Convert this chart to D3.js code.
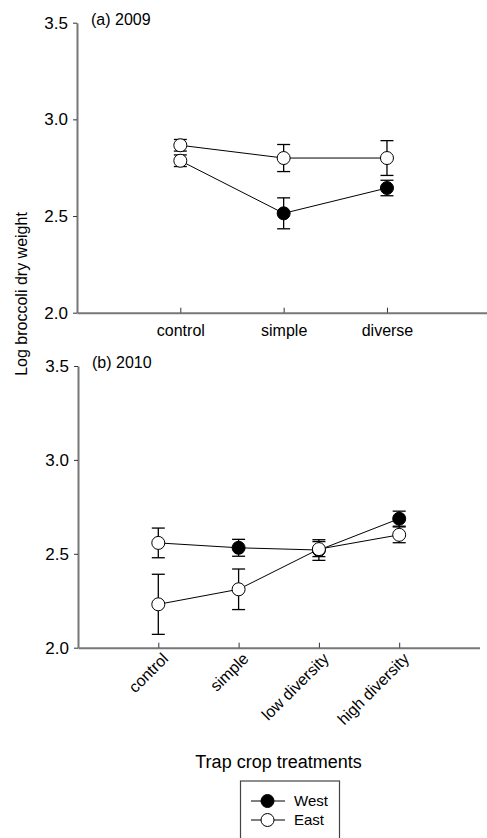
<!DOCTYPE html>
<html>
<head>
<meta charset="utf-8">
<script src="https://cdn.jsdelivr.net/npm/d3@7"></script>
<style>
  body { margin: 0; background: #fff; }
  svg { display: block; font-family: "Liberation Sans", Arial, sans-serif; }
</style>
</head>
<body>
<div id="chart"></div>
<script>
// values (log broccoli dry weight, mean +/- SE)
const treatA = ["control", "simple", "diverse"];
const westA = [2.786, 2.514, 2.645];
const westAErr = [0.03, 0.08, 0.04];
const eastA = [2.866, 2.80, 2.80];
const eastAErr = [0.03, 0.07, 0.09];

const treatB = ["control", "simple", "low diversity", "high diversity"];
const westB = [2.558, 2.532, 2.52, 2.687];
const westBErr = [0.079, 0.045, 0.055, 0.04];
const eastB = [2.231, 2.311, 2.525, 2.601];
const eastBErr = [0.16, 0.108, 0.04, 0.042];

const yTicks = [2.0, 2.5, 3.0, 3.5];
const seriesNames = ["West", "East"];

const width = 487, height = 838;
const axisGrey = "#777";

const svg = d3.select("#chart").append("svg")
  .attr("width", width)
  .attr("height", height);

function drawPanel(opts) {
  const { cats, west, westErr, east, eastErr, left, right, top, bottom, label, rotated } = opts;

  const x = d3.scaleLinear().domain([0, cats.length + 1]).range([left, right]);
  const y = d3.scaleLinear().domain([2.0, 3.5]).range([bottom, top]);

  const g = svg.append("g");

  // y axis
  const yAxis = g.append("g")
    .attr("transform", `translate(${left},0)`)
    .call(d3.axisLeft(y).tickValues(yTicks).tickFormat(d3.format(".1f")).tickSize(4).tickSizeOuter(0).tickPadding(5));
  yAxis.select(".domain").attr("stroke", axisGrey).attr("stroke-width", 2);
  yAxis.selectAll(".tick line").attr("stroke", "#333");
  yAxis.selectAll("text").style("font-size", "17px").attr("fill", "#000");

  // x axis, ticks point inward
  const xAxis = g.append("g")
    .attr("transform", `translate(0,${bottom})`)
    .call(d3.axisBottom(x).tickValues(d3.range(1, cats.length + 1))
      .tickSize(-5).tickSizeOuter(0).tickPadding(12)
      .tickFormat(d => rotated ? "" : cats[d - 1]));
  xAxis.select(".domain").attr("stroke", axisGrey).attr("stroke-width", 2);
  xAxis.selectAll(".tick line").attr("stroke", "#333");
  xAxis.selectAll("text").style("font-size", "16px").attr("fill", "#000");

  if (rotated) {
    g.selectAll(".rot-label")
      .data(cats)
      .enter()
      .append("text")
      .attr("class", "rot-label")
      .attr("transform", (d, i) => `translate(${x(i + 1) + 7},${bottom + 8}) rotate(-45)`)
      .attr("text-anchor", "end")
      .attr("dy", "0.35em")
      .style("font-size", "16px")
      .text(d => d);
  }

  g.append("text")
    .attr("x", left + 14)
    .attr("y", top + 2)
    .style("font-size", "16px")
    .text(label);

  const series = [
    { name: "West", vals: west, errs: westErr },
    { name: "East", vals: east, errs: eastErr }
  ].map(s => ({
    name: s.name,
    pts: s.vals.map((v, i) => ({ cat: cats[i], i: i + 1, v: v, e: s.errs[i] }))
  }));

  const line = d3.line().x(d => x(d.i)).y(d => y(d.v));

  series.forEach(s => {
    g.append("path")
      .datum(s.pts)
      .attr("fill", "none")
      .attr("stroke", "#000")
      .attr("stroke-width", 1)
      .attr("d", line);
  });

  const cap = 6.5;
  series.forEach(s => {
    const eb = g.selectAll(null).data(s.pts).enter().append("g").attr("stroke", "#000").attr("stroke-width", 1.3);
    eb.append("line")
      .attr("x1", d => x(d.i)).attr("x2", d => x(d.i))
      .attr("y1", d => y(d.v - d.e)).attr("y2", d => y(d.v + d.e));
    eb.append("line")
      .attr("x1", d => x(d.i) - cap).attr("x2", d => x(d.i) + cap)
      .attr("y1", d => y(d.v + d.e)).attr("y2", d => y(d.v + d.e));
    eb.append("line")
      .attr("x1", d => x(d.i) - cap).attr("x2", d => x(d.i) + cap)
      .attr("y1", d => y(d.v - d.e)).attr("y2", d => y(d.v - d.e));
  });

  series.forEach(s => {
    g.selectAll(null).data(s.pts).enter().append("circle")
      .attr("cx", d => x(d.i))
      .attr("cy", d => y(d.v))
      .attr("r", 6.5)
      .attr("stroke", "#000")
      .attr("stroke-width", 1)
      // in the original the West control marker is printed open, like East
      .attr("fill", d => (s.name === "West" && d.cat !== "control") ? "#000" : "#fff");
  });

  return { x, y };
}

drawPanel({
  cats: treatA, west: westA, westErr: westAErr, east: eastA, eastErr: eastAErr,
  left: 77, right: 490.3, top: 22.7, bottom: 312.7, label: "(a) 2009", rotated: false
});

drawPanel({
  cats: treatB, west: westB, westErr: westBErr, east: eastB, eastErr: eastBErr,
  left: 78, right: 479.5, top: 366, bottom: 647.7, label: "(b) 2010", rotated: true
});

// shared y label
svg.append("text")
  .attr("transform", "rotate(-90)")
  .attr("x", -294)
  .attr("y", 27)
  .attr("text-anchor", "middle")
  .style("font-size", "16px")
  .text("Log broccoli dry weight");

svg.append("text")
  .attr("x", 278.5)
  .attr("y", 767.5)
  .attr("text-anchor", "middle")
  .style("font-size", "18px")
  .text("Trap crop treatments");

// legend
const legend = svg.append("g");
legend.append("rect")
  .attr("x", 240.5)
  .attr("y", 781)
  .attr("width", 99)
  .attr("height", 80)
  .attr("fill", "#fff")
  .attr("stroke", "#444")
  .attr("stroke-width", 1.2);

const legItems = legend.selectAll(".leg")
  .data(seriesNames)
  .enter()
  .append("g")
  .attr("class", "leg")
  .attr("transform", (d, i) => `translate(0,${801 + i * 19})`);

legItems.append("line")
  .attr("x1", 251).attr("x2", 285)
  .attr("stroke", "#000").attr("stroke-width", 1);
legItems.append("circle")
  .attr("cx", 267.5)
  .attr("r", 6.5)
  .attr("stroke", "#000")
  .attr("fill", d => d === "West" ? "#000" : "#fff");
legItems.append("text")
  .attr("x", 294)
  .attr("dy", "0.35em")
  .style("font-size", "15px")
  .text(d => d);
</script>
</body>
</html>
